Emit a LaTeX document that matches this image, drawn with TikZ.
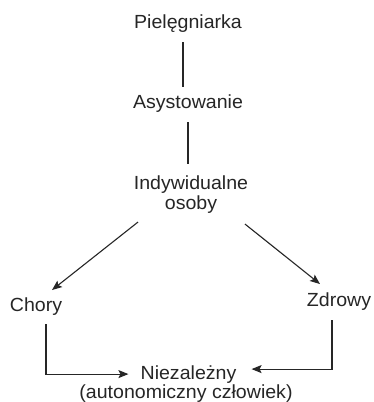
\documentclass[tikz,border=0pt]{standalone}
\usepackage{fontspec}
\setmainfont{Liberation Sans}[FakeStretch=1.03]
\usetikzlibrary{arrows.meta}
\begin{document}
\begin{tikzpicture}[x=1pt,y=-1pt,
  lbl/.style={inner sep=0pt,font=\fontsize{19}{19}\selectfont,text=black!85},
  link/.style={line width=1.1pt,draw=black!85},
  arr/.style={link,-{Stealth[length=10pt,width=8pt,inset=2pt]}}]
\useasboundingbox[fill=white] (0,0) rectangle (374,402);
\node[lbl,anchor=base] (p) at (188,28) {Pielęgniarka};
\node[lbl,anchor=base] (a) at (188,108) {Asystowanie};
\node[lbl,align=center] (i) at (191,195) {Indywidualne\\[1pt]osoby};
\node[lbl,anchor=base] (c) at (36,311) {Chory};
\node[lbl,anchor=base] (z) at (339,306) {Zdrowy};
\node[lbl,anchor=base] (n) at (188.5,379) {Niezależny};
\node[lbl,anchor=base] (t) at (186,398) {(autonomiczny człowiek)};
\draw[link] ([xshift=-5pt,yshift=-10pt]p.south) -- ([xshift=-5pt,yshift=7pt]a.north);
\draw[link] ([yshift=-10pt]a.south) -- ([xshift=-3pt,yshift=12pt]i.north);
\draw[arr] ([xshift=-53pt,yshift=-8pt]i.south) -- ([xshift=16pt,yshift=7pt]c.north);
\draw[arr] ([xshift=54pt,yshift=-10pt]i.south) -- ([xshift=-19pt,yshift=8pt]z.north);
\draw[arr] ([xshift=10pt,yshift=-9pt]c.south) |- ([xshift=-12pt]n.west);
\draw[arr] ([xshift=-7pt,yshift=-10pt]z.south) |- ([xshift=15pt,yshift=5pt]n.east);
\end{tikzpicture}
\end{document}
